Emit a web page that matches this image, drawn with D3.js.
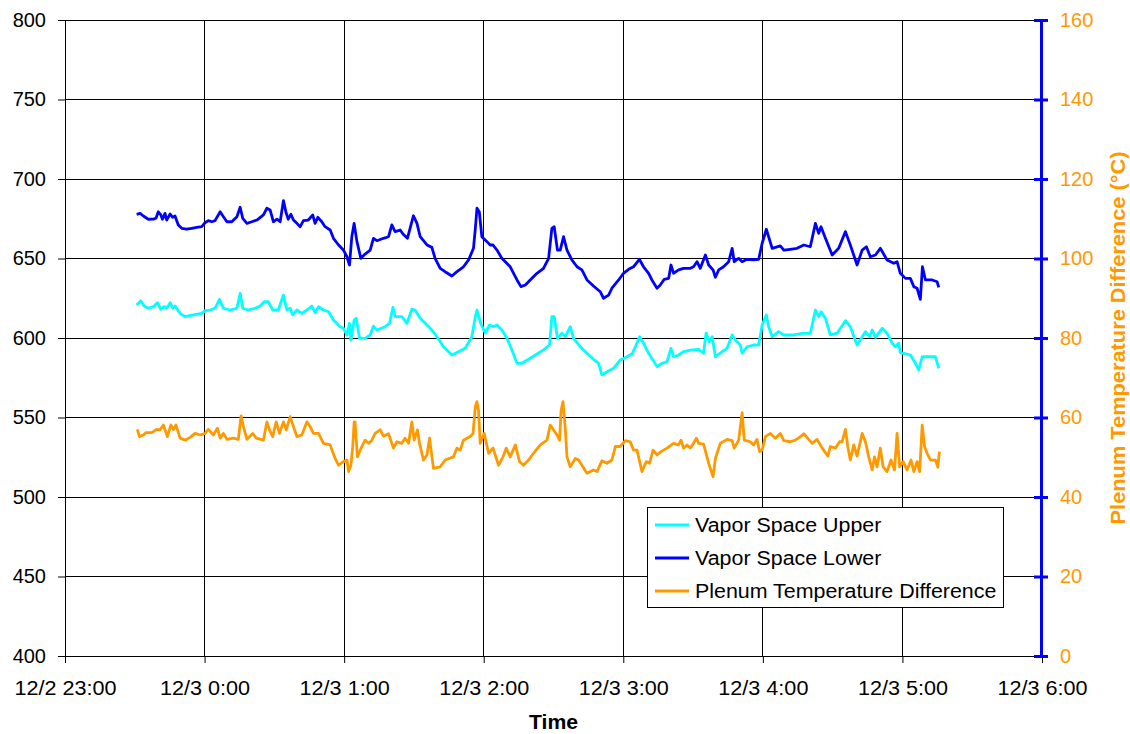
<!DOCTYPE html>
<html>
<head>
<meta charset="utf-8">
<script src="https://cdn.jsdelivr.net/npm/d3@7"></script>
<style>
  body { margin: 0; background: #fff; }
  svg { font-family: Arial, "Liberation Sans", sans-serif; }
</style>
</head>
<body>
<div id="chart"></div>
<script>
// times are minutes after 12/2 23:00
const lowerTimes = [30.8,32.3,33.7,35.8,38.0,39.1,40.1,41.2,41.9,43.0,43.7,45.2,46.3,47.3,48.7,50.2,52.3,54.5,56.6,58.8,60.2,61.6,63.1,64.5,66.7,68.1,69.6,71.7,73.9,75.3,76.4,78.2,80.3,82.5,85.3,86.8,88.2,89.6,91.1,92.5,93.9,95.1,96.0,97.1,98.2,99.7,101.1,102.5,104.6,106.5,107.5,108.7,110.4,111.8,114.0,115.4,117.6,119.7,121.2,122.3,123.3,124.3,125.5,127.2,129.0,131.2,132.6,134.1,136.9,139.1,140.5,141.9,144.1,145.3,147.2,149.8,151.3,152.7,155.6,157.7,159.1,161.3,163.4,166.3,168.5,171.3,173.5,175.6,176.4,177.1,178.1,179.2,181.4,182.8,184.0,185.7,187.8,191.4,194.3,196.0,197.9,200.0,202.9,205.7,207.9,209.3,210.3,211.7,212.9,214.3,215.8,217.9,220.1,222.2,224.4,227.2,230.1,231.5,233.7,235.1,238.0,240.1,242.3,244.4,246.9,248.7,250.9,252.3,254.5,255.9,257.6,259.5,260.5,261.6,263.8,265.9,268.8,270.2,271.7,273.1,275.3,276.7,278.6,279.6,281.0,283.1,285.3,286.8,287.7,289.6,291.1,293.2,296.0,298.2,299.7,301.5,304.0,307.5,309.0,311.8,314.7,317.6,320.4,322.6,324.0,325.0,326.9,329.8,332.6,335.5,337.6,340.5,342.7,344.5,346.2,348.4,350.5,353.4,356.3,357.7,359.1,361.3,363.4,364.9,366.3,367.7,368.6,369.9,372.8,374.9,375.6];
const lowerValues = [677.8,678.4,676.7,674.7,674.8,675.3,679.4,677.4,674.7,678.4,674.2,678.0,675.9,676.7,671.1,669.0,668.4,669.0,669.6,670.0,672.5,673.8,673.1,673.8,679.4,676.3,673.1,673.1,676.3,682.2,675.3,672.1,673.1,674.2,677.4,681.6,680.5,673.1,674.7,673.1,686.4,678.4,674.7,677.8,674.2,672.1,670.0,673.8,674.2,677.4,672.1,675.9,673.1,670.0,667.9,662.7,658.5,655.3,651.1,645.9,663.7,672.1,660.6,650.1,652.8,655.3,662.7,661.2,662.7,663.7,671.1,666.9,667.9,665.4,662.7,676.9,672.1,663.7,658.5,657.0,650.1,643.8,641.7,639.0,641.7,644.8,649.1,656.4,669.0,681.6,679.4,663.7,660.6,658.5,658.5,655.3,650.1,644.8,636.5,632.3,633.3,636.5,640.7,643.8,650.1,669.0,670.0,655.3,655.3,663.7,655.3,649.1,644.8,642.8,636.5,632.7,629.1,625.0,627.0,631.3,636.5,640.7,643.2,644.8,649.5,644.8,640.7,636.5,631.3,633.3,636.9,637.5,645.9,640.7,642.8,643.8,643.8,644.8,648.0,643.8,652.2,645.9,642.8,638.2,642.8,644.8,648.0,656.4,648.0,650.1,648.0,649.5,649.1,649.5,659.6,668.4,656.4,657.9,655.3,655.8,656.4,658.5,657.4,672.1,665.8,670.0,662.7,652.2,656.4,666.9,658.5,645.9,655.3,657.4,651.1,652.2,656.4,649.1,647.0,648.0,640.7,637.5,637.5,632.3,631.3,624.3,644.8,636.5,636.5,635.4,631.9];

const upperTimes = [30.8,32.6,34.0,35.8,38.0,39.7,41.2,42.6,43.7,45.2,46.3,47.3,49.5,51.6,55.2,58.8,60.2,62.4,64.5,66.4,68.1,71.0,73.9,75.3,76.4,78.8,81.7,83.9,85.6,87.4,89.3,91.7,93.9,95.4,96.8,97.9,99.7,101.8,104.0,106.1,107.5,109.0,111.1,113.3,115.4,118.3,119.7,121.2,122.3,122.9,124.3,125.2,126.6,129.0,131.2,132.6,134.1,137.6,139.5,141.0,141.9,144.8,147.0,149.1,150.5,152.7,155.6,157.7,159.9,162.7,166.3,169.2,172.0,174.9,176.4,177.1,178.8,180.7,182.5,184.2,185.7,187.8,190.0,192.1,194.3,196.4,199.3,202.9,205.7,208.3,209.3,210.3,211.7,213.6,215.1,217.2,218.6,221.5,224.4,227.2,229.4,230.8,233.0,235.8,238.7,241.6,243.7,245.2,247.0,248.7,250.9,254.5,256.7,258.8,260.5,261.6,263.8,265.9,269.6,272.4,274.5,275.6,277.0,278.2,279.6,282.5,284.6,286.8,288.2,290.3,291.1,293.2,296.0,298.2,299.7,301.5,302.5,304.0,306.8,309.0,313.3,317.6,320.4,322.6,324.0,325.0,326.9,329.0,331.9,335.5,337.6,340.5,342.7,344.1,345.9,347.0,348.4,351.3,353.4,355.6,357.0,358.4,359.1,360.6,363.4,365.6,367.0,368.5,370.6,374.2,375.6];
const upperValues = [620.8,623.5,620.1,618.7,619.7,622.2,618.1,619.7,618.7,622.2,618.7,620.1,615.5,613.4,614.5,615.5,617.2,617.6,618.7,624.3,618.7,617.6,618.7,628.1,618.7,617.6,618.7,620.1,622.8,622.8,617.6,617.6,627.0,617.6,618.7,614.5,617.6,615.5,617.6,620.1,615.9,619.7,617.6,616.5,611.3,607.1,606.1,601.9,609.2,598.7,611.3,612.4,599.8,599.8,601.9,607.5,605.0,607.1,609.2,619.3,613.4,613.4,609.2,618.1,617.6,612.4,608.2,605.0,600.8,594.5,589.3,591.4,593.5,600.8,613.4,617.6,608.8,603.0,608.2,607.1,608.2,605.0,599.8,592.5,584.1,584.1,586.6,589.9,592.5,595.6,613.4,613.4,599.8,603.0,600.8,607.1,599.8,594.5,590.4,586.6,584.1,576.7,578.8,580.9,586.2,588.2,589.9,594.5,600.8,596.7,590.4,582.0,584.1,585.1,593.5,588.2,589.3,591.4,592.5,592.9,590.4,603.0,597.7,600.8,588.2,591.4,593.5,601.9,598.7,595.6,590.4,594.5,595.6,595.6,608.2,614.5,607.1,600.8,604.0,601.9,601.9,603.0,603.0,617.6,613.4,616.5,612.4,601.9,603.0,610.9,607.1,595.6,600.8,604.0,600.8,605.0,600.4,606.1,603.0,596.7,594.5,596.7,590.8,590.4,589.3,584.1,579.9,588.2,588.2,588.2,580.9];

const plenumTimes = [31.1,32.0,33.7,34.8,37.3,39.4,40.9,42.3,44.0,45.5,46.6,47.7,49.5,51.6,53.8,55.9,58.1,60.2,61.6,63.8,65.5,66.7,68.1,69.6,72.4,74.5,75.7,76.7,78.2,80.7,82.2,85.3,86.8,87.9,89.3,90.8,92.2,93.9,95.1,96.8,98.2,99.7,101.8,104.0,105.4,106.8,109.0,111.1,114.0,116.1,117.6,119.7,121.2,121.9,122.9,123.7,124.3,124.7,125.7,127.6,129.0,130.5,131.9,133.3,135.5,136.9,139.1,141.2,142.7,144.8,146.2,147.7,149.1,150.1,151.5,152.4,154.1,155.6,156.7,158.4,161.3,163.4,167.0,168.5,169.9,171.3,174.2,175.4,176.4,177.1,177.8,178.5,180.2,182.1,184.0,186.4,188.3,189.7,191.4,193.6,195.4,197.1,199.3,201.4,204.3,207.2,208.6,211.5,212.6,213.3,214.1,215.1,215.8,217.2,219.4,220.8,222.2,224.4,227.2,228.7,230.8,233.0,235.1,236.6,238.7,240.9,243.0,244.4,245.9,248.0,249.9,251.3,252.8,254.5,256.7,258.8,261.6,263.8,264.8,265.9,267.4,268.8,270.2,271.4,272.4,274.5,276.7,278.6,279.6,281.7,284.6,286.8,287.7,289.6,291.1,292.0,294.6,296.0,297.5,298.6,299.7,301.1,303.2,305.4,307.5,309.0,311.8,314.0,315.8,317.6,319.7,321.2,323.3,325.5,327.9,329.0,331.2,333.0,334.1,335.5,336.5,337.6,339.1,340.5,342.7,344.1,345.5,347.0,348.0,349.1,350.5,351.7,353.4,355.1,356.6,357.7,358.8,360.3,362.0,363.7,364.9,366.3,367.4,368.5,369.5,370.6,372.1,374.2,375.2,375.9];
const plenumValues = [57.0,55.2,55.6,56.2,56.2,57.0,56.9,58.1,55.2,58.1,57.0,58.1,54.8,54.3,55.0,56.0,55.6,56.0,57.0,55.6,57.3,54.8,56.0,54.5,54.8,54.5,60.4,57.7,54.5,56.0,54.8,54.3,58.9,56.9,55.2,58.9,56.0,58.9,56.9,60.2,57.7,55.2,55.6,58.9,57.7,56.0,56.0,53.5,53.1,49.7,48.0,48.9,49.3,46.4,48.0,52.7,58.9,58.9,50.1,52.7,54.3,53.5,54.3,56.0,56.9,55.3,55.9,52.3,53.9,53.5,54.8,53.5,58.9,54.3,56.9,53.5,49.3,50.6,54.8,47.2,47.6,49.3,50.1,52.3,51.8,54.3,55.2,56.0,62.7,64.0,61.5,53.5,56.0,51.0,52.3,48.0,50.1,52.3,50.1,53.1,48.9,48.0,49.3,51.0,53.1,54.3,58.1,55.6,54.3,61.9,64.0,56.9,50.1,47.6,49.7,49.3,48.0,46.0,46.8,46.4,49.1,48.5,49.3,52.7,52.7,54.2,53.9,51.8,51.8,46.4,48.9,48.5,51.8,50.6,51.6,52.3,53.5,53.1,54.3,52.3,53.1,52.3,53.5,54.8,53.5,53.3,48.5,45.1,49.7,53.5,54.5,54.2,52.3,54.3,61.2,54.3,53.9,53.1,54.5,51.4,51.8,55.2,56.0,54.8,56.0,54.2,53.9,54.3,55.0,55.9,54.5,53.5,54.5,52.3,50.3,52.7,52.3,53.9,53.9,57.0,52.7,49.3,53.1,50.3,56.0,53.9,50.1,46.8,50.1,47.6,52.3,47.6,46.4,49.3,46.8,56.0,47.6,48.9,46.8,49.3,46.4,48.9,46.4,58.1,52.7,51.0,49.3,49.3,47.5,51.4];

const leftTicks = [400, 450, 500, 550, 600, 650, 700, 750, 800];
const rightTicks = [0, 20, 40, 60, 80, 100, 120, 140, 160];
const seriesNames = ["Vapor Space Upper", "Vapor Space Lower", "Plenum Temperature Difference"];
const seriesColors = ["#00FFFF", "#0000FF", "#FF9900"];

const W = 1130, H = 734;
const margin = {left: 65, top: 20, right: 88, bottom: 78};
const x0 = margin.left, x1 = W - margin.right, y0 = margin.top, y1 = H - margin.bottom;
const FONT = "Arial, 'Liberation Sans', sans-serif";

// widen text a little, like the original renderer does
function stretch(sel, k) {
  sel.each(function() {
    const w = this.getComputedTextLength();
    d3.select(this).attr("textLength", w * k).attr("lengthAdjust", "spacingAndGlyphs");
  });
}

const start = new Date(2000, 11, 2, 23, 0);
const toDate = m => new Date(start.getTime() + m * 60000);

const x = d3.scaleTime()
  .domain([start, new Date(2000, 11, 3, 6, 0)])
  .range([x0, x1]);
const yL = d3.scaleLinear().domain([400, 800]).range([y1, y0]);
const yR = d3.scaleLinear().domain([0, 160]).range([y1, y0]);

const svg = d3.select("#chart").append("svg")
  .attr("width", W).attr("height", H);

const hours = d3.range(0, 8).map(h => toDate(h * 60));

// gridlines
svg.append("g").selectAll("line").data(leftTicks).enter().append("line")
  .attr("x1", x0).attr("x2", x1)
  .attr("y1", d => yL(d)).attr("y2", d => yL(d))
  .attr("stroke", "#000").attr("stroke-width", 1).attr("shape-rendering", "crispEdges");
svg.append("g").selectAll("line").data(hours).enter().append("line")
  .attr("x1", d => x(d)).attr("x2", d => x(d))
  .attr("y1", y0).attr("y2", y1)
  .attr("stroke", "#000").attr("stroke-width", 1).attr("shape-rendering", "crispEdges");

// left axis
const leftAxis = svg.append("g")
  .attr("transform", "translate(" + x0 + ",0)")
  .call(d3.axisLeft(yL).tickValues(leftTicks).tickSize(7).tickPadding(12));
leftAxis.selectAll("text").attr("font-size", "20px").attr("fill", "#000").attr("font-family", FONT);
leftAxis.selectAll("line").attr("stroke", "#000");
leftAxis.select(".domain").attr("stroke", "#000");

// bottom axis
const fmt = d3.timeFormat("%-m/%-d %-H:%M");
const bottomAxis = svg.append("g")
  .attr("transform", "translate(0," + y1 + ")")
  .call(d3.axisBottom(x).tickValues(hours).tickFormat(fmt).tickSize(7).tickPadding(18));
bottomAxis.selectAll("text").attr("font-size", "20px").attr("fill", "#000").attr("font-family", FONT)
  .call(stretch, 1.08);
bottomAxis.selectAll("line").attr("stroke", "#000");
bottomAxis.select(".domain").attr("stroke", "#000");

// right axis (blue line, orange labels)
const rightAxis = svg.append("g")
  .attr("transform", "translate(" + (x1 - 1) + ",0)")
  .call(d3.axisRight(yR).tickValues(rightTicks).tickSizeInner(7).tickSizeOuter(0).tickPadding(12));
rightAxis.select(".domain").attr("stroke", "#0000FF").attr("stroke-width", 3);
rightAxis.selectAll(".tick line").attr("stroke", "#0000FF").attr("stroke-width", 3)
  .attr("x1", -7).attr("x2", 7);
rightAxis.selectAll("text").attr("font-size", "20px").attr("fill", "#FF9900").attr("font-family", FONT);

// axis titles
svg.append("text")
  .attr("x", (x0 + x1) / 2).attr("y", 729)
  .attr("text-anchor", "middle")
  .attr("font-size", "20px").attr("font-weight", "bold")
  .text("Time")
  .call(stretch, 1.06);
svg.append("text")
  .attr("transform", "translate(1125," + ((y0 + y1) / 2) + ") rotate(-90)")
  .attr("text-anchor", "middle")
  .attr("font-size", "20px").attr("font-weight", "bold").attr("fill", "#FF9900")
  .text("Plenum Temperature Difference (°C)")
  .call(stretch, 1.09);

// series lines
const lineL = d3.line().x(d => x(toDate(d[0]))).y(d => yL(d[1]));
const lineR = d3.line().x(d => x(toDate(d[0]))).y(d => yR(d[1]));

svg.append("path")
  .datum(d3.zip(upperTimes, upperValues))
  .attr("d", lineL).attr("fill", "none")
  .attr("stroke", seriesColors[0]).attr("stroke-width", 2.8).attr("stroke-linejoin", "round");
svg.append("path")
  .datum(d3.zip(lowerTimes, lowerValues))
  .attr("d", lineL).attr("fill", "none")
  .attr("stroke", seriesColors[1]).attr("stroke-width", 2.8).attr("stroke-linejoin", "round");
svg.append("path")
  .datum(d3.zip(plenumTimes, plenumValues))
  .attr("d", lineR).attr("fill", "none")
  .attr("stroke", seriesColors[2]).attr("stroke-width", 2.8).attr("stroke-linejoin", "round");

// legend
const legend = svg.append("g").attr("transform", "translate(647,507)");
legend.append("rect")
  .attr("width", 356).attr("height", 100)
  .attr("fill", "#fff").attr("stroke", "#000").attr("stroke-width", 1)
  .attr("shape-rendering", "crispEdges");
seriesNames.forEach((name, i) => {
  const ly = 18 + i * 33;
  legend.append("line")
    .attr("x1", 8).attr("x2", 42).attr("y1", ly).attr("y2", ly)
    .attr("stroke", seriesColors[i]).attr("stroke-width", 2.8);
  legend.append("text")
    .attr("x", 48).attr("y", ly + 7)
    .attr("font-size", "20px").attr("fill", "#000")
    .text(name)
    .call(stretch, 1.07);
});
</script>
</body>
</html>
